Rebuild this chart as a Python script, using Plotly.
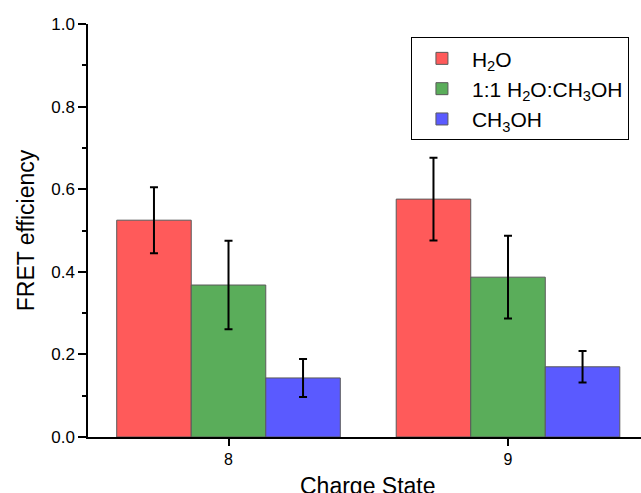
import plotly.graph_objects as go

charge_states = [8, 9]
series_names = ["H<sub>2</sub>O", "1:1 H<sub>2</sub>O:CH<sub>3</sub>OH", "CH<sub>3</sub>OH"]
h2o_vals = [0.525, 0.576]
h2o_err = [0.080, 0.100]
mix_vals = [0.368, 0.387]
mix_err = [0.107, 0.100]
meoh_vals = [0.143, 0.170]
meoh_err = [0.046, 0.038]
colors = ["#FF5A5A", "#5AAD5A", "#5A5AFF"]
y_major = [0.0, 0.2, 0.4, 0.6, 0.8, 1.0]
x_title = "Charge State"
y_title = "FRET efficiency"

FONT = "Liberation Sans, Arial, Helvetica, sans-serif"

fig = go.Figure()
for name, vals, errs, col in zip(series_names,
                                 [h2o_vals, mix_vals, meoh_vals],
                                 [h2o_err, mix_err, meoh_err],
                                 colors):
    fig.add_trace(go.Bar(
        x=charge_states, y=vals, name=name,
        marker=dict(color=col, line=dict(color="#5a5a5a", width=1)),
        error_y=dict(type="data", array=errs, visible=True,
                     color="black", thickness=2, width=4),
    ))

xrange = [7.4973, 9.4758]
fig.update_layout(
    width=641, height=493,
    margin=dict(l=88, r=0, t=24, b=56),
    paper_bgcolor="white", plot_bgcolor="white",
    barmode="group", bargap=0.2, bargroupgap=0.0,
    font=dict(family=FONT, color="black", size=16),
    showlegend=True,
    legend=dict(x=0.584, y=0.968, xanchor="left", yanchor="top",
                bgcolor="white", bordercolor="black", borderwidth=1,
                itemwidth=50,
                font=dict(size=21, family=FONT)),
    xaxis=dict(range=xrange, tickvals=charge_states, ticktext=[str(c) for c in charge_states],
               ticks="outside", ticklen=7, tickwidth=1.5, tickcolor="black",
               showline=True, linecolor="black", linewidth=1.5,
               showgrid=False, zeroline=False, automargin=False,
               tickfont=dict(size=16)),
    xaxis2=dict(range=xrange, overlaying="x", side="top", anchor="y",
                tickvals=charge_states, ticks="inside", ticklen=6, tickwidth=1.5,
                tickcolor="black", showticklabels=False, automargin=False,
                showline=True, linecolor="black", linewidth=1.5,
                showgrid=False, zeroline=False),
    yaxis=dict(range=[0, 1], tickvals=y_major, tickformat=".1f",
               ticks="outside", ticklen=8, tickwidth=1.5, tickcolor="black",
               minor=dict(dtick=0.1, ticks="outside", ticklen=4, tickwidth=1.5, tickcolor="black"),
               showline=True, linecolor="black", linewidth=1.5,
               showgrid=False, zeroline=False, automargin=False,
               title=dict(text=y_title, font=dict(size=23), standoff=10),
               tickfont=dict(size=17)),
    yaxis2=dict(range=[0, 1], overlaying="y", side="right", anchor="x",
                tickvals=y_major[1:-1], ticks="inside", ticklen=4, tickwidth=1.5,
                tickcolor="black", showticklabels=False, showline=False,
                showgrid=False, zeroline=False, automargin=False),
    annotations=[dict(text=x_title, xref="paper", yref="paper", x=0.506, y=-0.083,
                      xanchor="center", yanchor="top", showarrow=False,
                      font=dict(size=23, family=FONT, color="black"))],
)

fig.write_html("out.html", config={"displayModeBar": False},
               post_script="document.body.style.margin='0';document.body.style.overflow='hidden';")
